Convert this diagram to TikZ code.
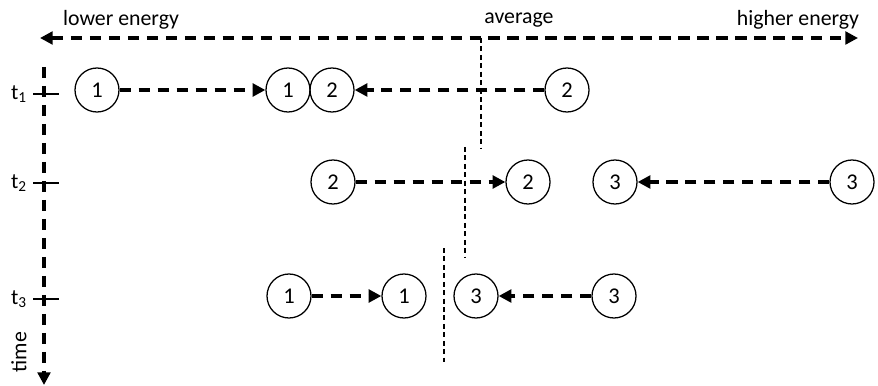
\documentclass[tikz,border=0pt]{standalone}
\usepackage{fontspec}
\setmainfont{Carlito}
\usetikzlibrary{arrows.meta}
\tikzset{
  part/.style={circle, draw, line width=0.9pt, minimum size=1.1cm, inner sep=0pt, font=\fontsize{16}{18}\selectfont},
  flow/.style={line width=2.4pt, dash pattern=on 8pt off 5.5pt, -{Triangle[length=9pt, width=9pt]}},
  axis/.style={line width=2.4pt, dash pattern=on 8pt off 5.5pt, {Triangle[length=9pt, width=9pt]}-{Triangle[length=9pt, width=9pt]}},
  mean/.style={line width=0.8pt, dash pattern=on 3.5pt off 2.5pt},
  tick/.style={line width=0.9pt},
  lbl/.style={font=\fontsize{15.5}{18}\selectfont, inner sep=0pt}
}
\begin{document}
\begin{tikzpicture}[x=0.025cm, y=-0.025cm]
\useasboundingbox (0,0) rectangle (878,386);
% energy axis
\coordinate (elow) at (40,38);
\coordinate (ehigh) at (858,38);
\draw[axis] (elow) -- (ehigh);
\node[lbl] (low) at (121,20) {lower energy};
\node[lbl] (avg) at (519,20) {average};
\node[lbl] (high) at (798,20) {higher energy};
% time axis
\coordinate (ttop) at (44,67);
\coordinate (tend) at (44,385);
\draw[flow] (ttop) -- (tend);
\node[lbl, rotate=90] (time) at (19,352) {time};
\foreach \i/\y in {1/94, 2/183, 3/299}{
  \coordinate (tl\i) at (33,\y);
  \coordinate (tr\i) at (59,\y);
  \draw[tick] (tl\i) -- (tr\i);
  \node[lbl] (t\i) at (19,\y) {t\textsubscript{\i}};
}
% averages
\coordinate (m1a) at (481,38);
\coordinate (m1b) at (481,148);
\coordinate (m2a) at (465,147);
\coordinate (m2b) at (465,258);
\coordinate (m3a) at (444,248);
\coordinate (m3b) at (444,362);
\draw[mean] (m1a) -- (m1b);
\draw[mean] (m2a) -- (m2b);
\draw[mean] (m3a) -- (m3b);
% t1
\node[part] (pa1) at (97,90) {1};
\node[part] (pb1) at (288,90) {1};
\node[part] (pb2) at (332,90) {2};
\node[part] (pa2) at (567,90) {2};
\draw[flow] (pa1) -- (pb1);
\draw[flow] (pa2) -- (pb2);
% t2
\node[part] (qa2) at (333,182) {2};
\node[part] (qb2) at (528,182) {2};
\node[part] (qb3) at (615,182) {3};
\node[part] (qa3) at (852,182) {3};
\draw[flow] (qa2) -- (qb2);
\draw[flow] (qa3) -- (qb3);
% t3
\node[part] (ra1) at (289,296) {1};
\node[part] (rb1) at (404,296) {1};
\node[part] (rb3) at (476,296) {3};
\node[part] (ra3) at (614,296) {3};
\draw[flow] (ra1) -- (rb1);
\draw[flow] (ra3) -- (rb3);
\end{tikzpicture}
\end{document}
